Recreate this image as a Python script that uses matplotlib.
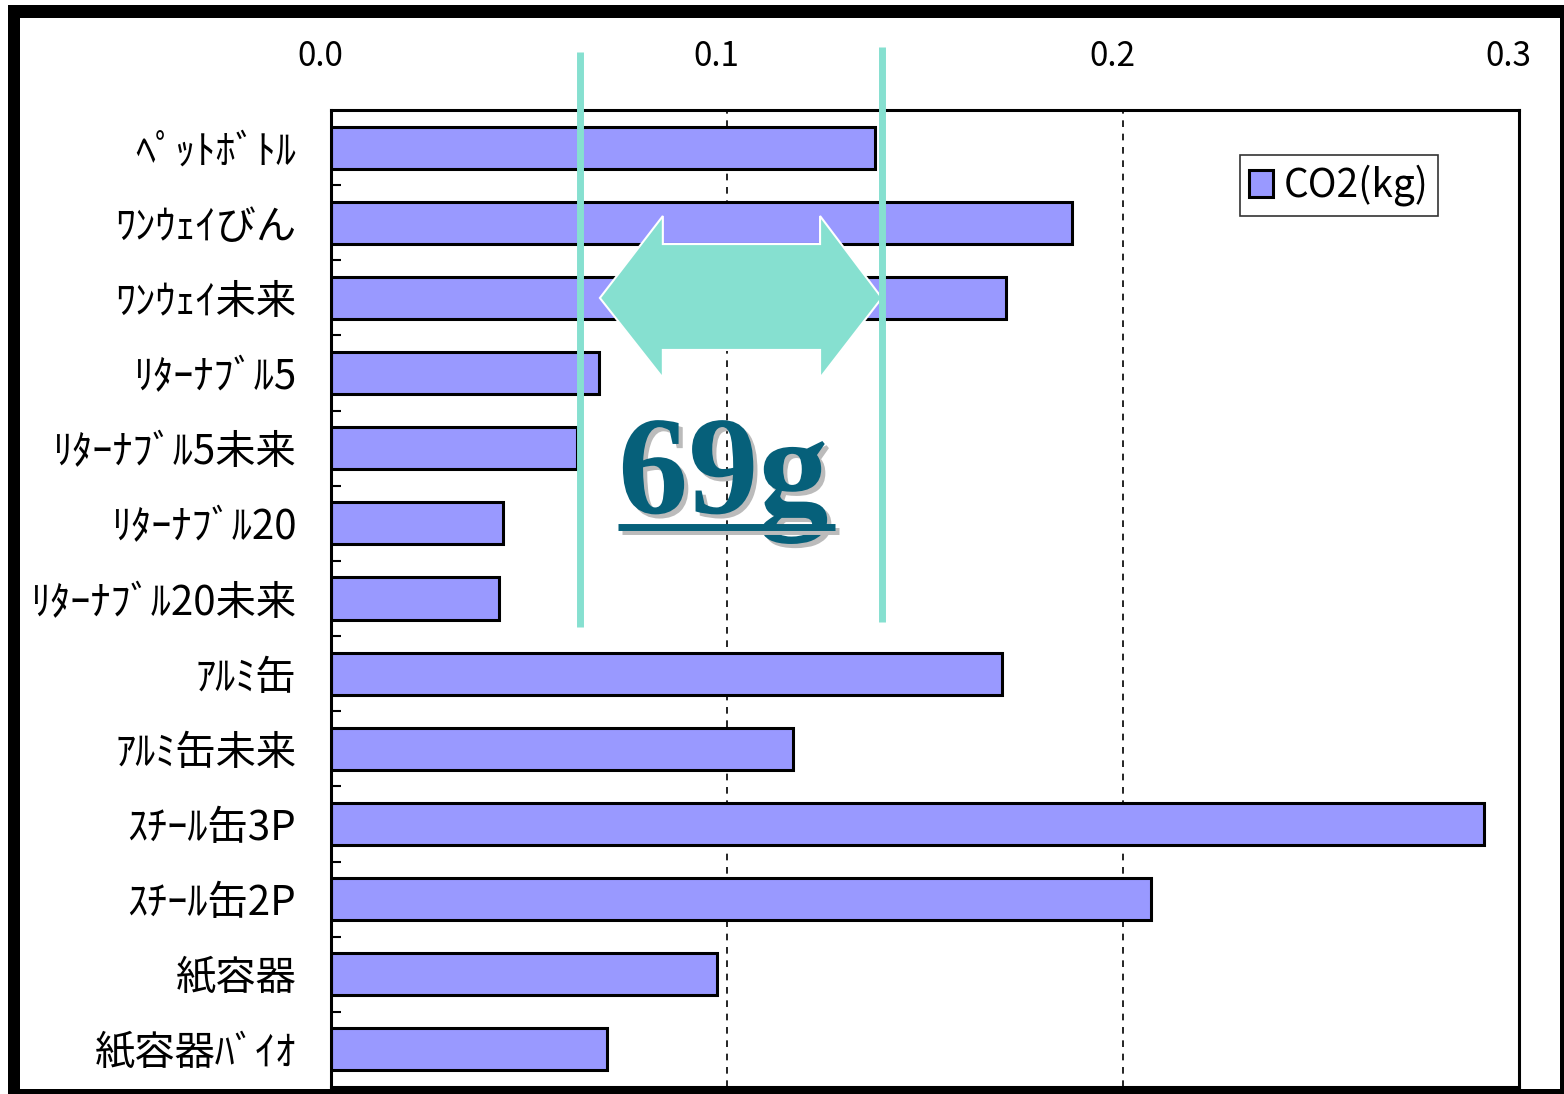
import matplotlib
matplotlib.use("Agg")
import matplotlib.pyplot as plt
import matplotlib.transforms as mtransforms
import matplotlib.patheffects as pe
from matplotlib.patches import Rectangle, Polygon
from matplotlib.ticker import FixedLocator
import numpy as np

plt.rcParams['font.family'] = ['Noto Sans CJK JP', 'DejaVu Sans']

# 容器別 CO2 排出量 (kg)
labels = ['ﾍﾟｯﾄﾎﾞﾄﾙ', 'ﾜﾝｳｪｲびん', 'ﾜﾝｳｪｲ未来', 'ﾘﾀｰﾅﾌﾞﾙ5', 'ﾘﾀｰﾅﾌﾞﾙ5未来',
          'ﾘﾀｰﾅﾌﾞﾙ20', 'ﾘﾀｰﾅﾌﾞﾙ20未来', 'ｱﾙﾐ缶', 'ｱﾙﾐ缶未来', 'ｽﾁｰﾙ缶3P',
          'ｽﾁｰﾙ缶2P', '紙容器', '紙容器ﾊﾞｲｵ']
co2 = [0.1374, 0.1871, 0.1705, 0.0677, 0.0621, 0.0434, 0.0424,
       0.1694, 0.1167, 0.2912, 0.2071, 0.0975, 0.0697]
xticks = [0.0, 0.1, 0.2, 0.3]
xticklabels = ['0.0', '0.1', '0.2', '0.3']
series_name = 'CO2(kg)'

# 差を示す注記
diff_text = '69g'
marker_x = [0.0629, 0.1392]

bar_color = '#9999FF'
mint = '#86E0D0'
teal = '#06607A'

fig = plt.figure(figsize=(15.64, 10.94), dpi=100, facecolor='white')

# 外枠 (左上が太い黒枠)
fig.add_artist(Rectangle((8 / 1564, 0), 1 - 8 / 1564, 1 - 5 / 1094,
                         transform=fig.transFigure, facecolor='black',
                         edgecolor='none', zorder=0))
fig.add_artist(Rectangle((20 / 1564, 5 / 1094), (1560 - 20) / 1564,
                         (1076 - 5) / 1094, transform=fig.transFigure,
                         facecolor='white', edgecolor='none', zorder=0))

ax = fig.add_axes([331 / 1564, 7 / 1094, (1519 - 331) / 1564, 977 / 1094])
ax.set_facecolor('white')

y = np.arange(len(labels))
ax.barh(y, co2, height=0.56, color=bar_color, edgecolor='black',
        linewidth=2.2, zorder=2, label=series_name)

ax.set_xlim(0, 0.3)
ax.set_ylim(len(labels) - 0.5, -0.5)

# x 軸は上側
ax.xaxis.tick_top()
ax.set_xticks(xticks)
ax.set_xticklabels(xticklabels, fontsize=24)
ax.tick_params(axis='x', length=0, pad=26)
offset = mtransforms.ScaledTranslation(-11 / 100, 0, fig.dpi_scale_trans)
for lab in ax.get_xticklabels():
    lab.set_transform(lab.get_transform() + offset)

for xv in xticks[1:-1]:
    ax.axvline(xv, color='black', lw=1.2, ls=(0, (4, 4)), zorder=1)

ax.set_yticks(y)
ax.set_yticklabels(labels, fontsize=29)
ax.tick_params(axis='y', which='major', length=0, pad=25)
ax.yaxis.set_minor_locator(FixedLocator(np.arange(0.5, len(labels) - 1, 1)))
ax.tick_params(axis='y', which='minor', direction='in', length=7, width=1.5)

for sp in ax.spines.values():
    sp.set_linewidth(2.2)
    sp.set_color('black')

leg = ax.legend(loc='upper right', bbox_to_anchor=(0.932, 0.954),
                fontsize=27, frameon=True, fancybox=False, borderpad=0.25,
                handlelength=0.62, handleheight=0.75, handletextpad=0.3,
                borderaxespad=0)
leg.get_frame().set_edgecolor('black')
leg.get_frame().set_linewidth(1.2)
for t in leg.get_texts():
    t.set_text(series_name)
    t.set_fontsize(28)

# 注記: 縦線, 両矢印, 差の値
trans = mtransforms.blended_transform_factory(ax.transData, ax.transAxes)
ax.plot([marker_x[0], marker_x[0]], [1.0594, 0.4708], color=mint, lw=5,
        transform=trans, clip_on=False, zorder=6, solid_capstyle='butt')
ax.plot([marker_x[1], marker_x[1]], [1.0645, 0.4759], color=mint, lw=5,
        transform=trans, clip_on=False, zorder=6, solid_capstyle='butt')

arrow_pts = [(0.0679, 0.8076), (0.0838, 0.8915), (0.0838, 0.8628),
             (0.1235, 0.8628), (0.1235, 0.8915), (0.1391, 0.8076),
             (0.1235, 0.7257), (0.1235, 0.7544), (0.0838, 0.7544),
             (0.0838, 0.7257)]
ax.add_patch(Polygon(arrow_pts, closed=True, facecolor=mint, edgecolor='white',
                     lw=1.5, transform=trans, clip_on=False, zorder=5))

ax.text(0.0725, 0.5875, diff_text, transform=trans, fontsize=101,
        family='Liberation Serif', fontweight='bold', color=teal,
        ha='left', va='baseline', zorder=7,
        path_effects=[pe.SimplePatchShadow(offset=(3, -3),
                                           shadow_rgbFace='#BBBBBB', alpha=1.0),
                      pe.Normal()])
ul, = ax.plot([0.0725, 0.1273], [0.5732, 0.5732], color=teal, lw=5,
              transform=trans, clip_on=False, zorder=7, solid_capstyle='butt')
ul.set_path_effects([pe.SimpleLineShadow(offset=(3, -3), shadow_color='#BBBBBB',
                                         alpha=1.0), pe.Normal()])

fig.savefig('out.png', dpi=100, facecolor='white')
